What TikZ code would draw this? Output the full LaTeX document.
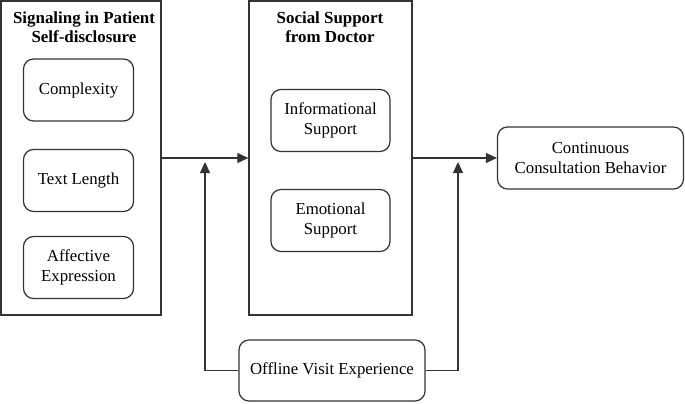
\documentclass[tikz,border=0pt]{standalone}
\usepackage{fontspec}
\setmainfont{Liberation Serif}
\usetikzlibrary{arrows.meta}
\begin{document}
\begin{tikzpicture}[x=1pt,y=-1pt,
  outerbox/.style={draw=black!80, line width=1.3pt, inner sep=0pt},
  innerbox/.style={draw=black!80, line width=1.2pt, rounded corners=10pt, align=center, inner sep=0pt, font=\fontsize{16.8}{20.5}\selectfont},
  titletext/.style={align=center, font=\fontsize{16.9}{19}\selectfont\bfseries},
  arr/.style={draw=black!80, line width=1.1pt, -{Triangle[length=11pt,width=10pt]}},
  ln/.style={draw=black!80, line width=1.1pt}]
\useasboundingbox (0,0) rectangle (685,404);
% outer boxes
\node[outerbox, minimum width=160pt, minimum height=314pt] (L) at (81,158) {};
\node[titletext] (Lt) at (84,27) {Signaling in Patient\\Self-disclosure};
\node[outerbox, minimum width=163pt, minimum height=314pt] (M) at (330.5,158) {};
\node[titletext] (Mt) at (330,27) {Social Support\\from Doctor};
% inner boxes left
\node[innerbox, minimum width=110pt, minimum height=62pt] (c1) at (78.5,90) {Complexity};
\node[innerbox, minimum width=110pt, minimum height=62pt] (c2) at (78.5,180.5) {Text Length};
\node[innerbox, minimum width=110pt, minimum height=62pt] (c3) at (78.5,267.5) {Affective\\Expression};
% inner boxes middle
\node[innerbox, minimum width=119pt, minimum height=62pt] (s1) at (330.5,120.5) {Informational\\Support};
\node[innerbox, minimum width=119pt, minimum height=62pt] (s2) at (330.5,220.5) {Emotional\\Support};
% right box
\node[innerbox, minimum width=186pt, minimum height=62pt] (C) at (590.5,158) {Continuous\\Consultation Behavior};
% moderator
\node[innerbox, minimum width=186pt, minimum height=61pt] (O) at (332,370.5) {Offline Visit Experience};
% connectors
\coordinate (t1) at (205,162);
\coordinate (t2) at (458,162);
\draw[arr] (L.east) -- (M.west);
\draw[arr] (M.east) -- (C.west);
\draw[arr] (O.west) -| (t1);
\draw[arr] (O.east) -| (t2);
\end{tikzpicture}
\end{document}
